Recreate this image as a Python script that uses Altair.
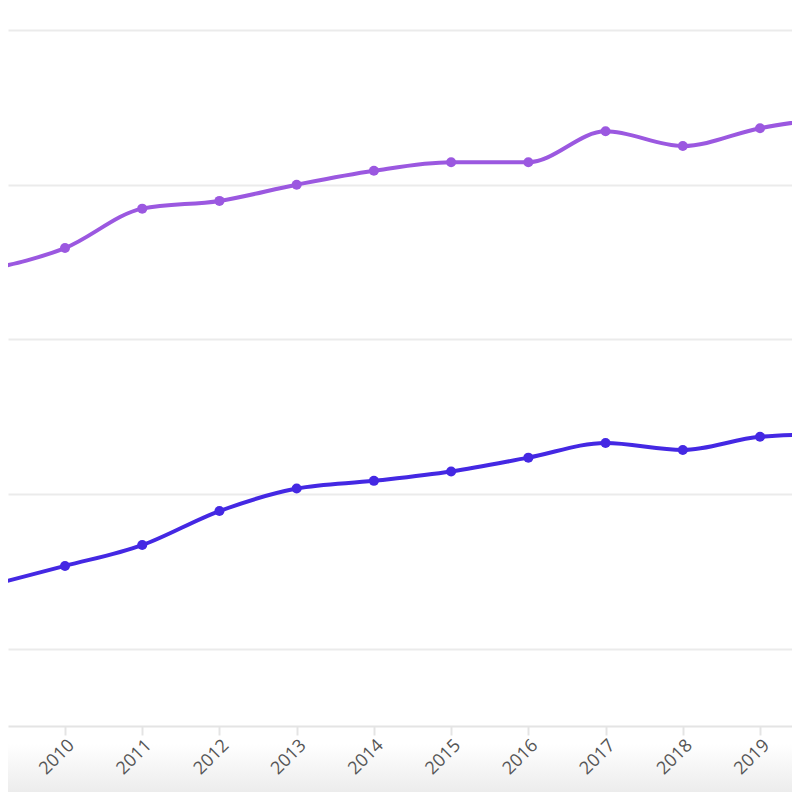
import altair as alt
import pandas as pd

years = [2009, 2010, 2011, 2012, 2013, 2014, 2015, 2016, 2017, 2018, 2019, 2020]
series_a = [69.0, 71.8, 76.9, 77.9, 80.0, 81.8, 82.9, 82.9, 86.9, 85.0, 87.3, 88.8]
series_b = [28.1, 30.7, 33.4, 37.8, 40.7, 41.7, 42.9, 44.7, 46.6, 45.7, 47.4, 47.8]
series_names = ["A", "B"]
series_colors = ["#9b58e0", "#4428e3"]
tick_years = [2010, 2011, 2012, 2013, 2014, 2015, 2016, 2017, 2018, 2019]
y_grid = [20, 40, 60, 80, 100]

rows = []
for name, vals in zip(series_names, [series_a, series_b]):
    for yr, v in zip(years, vals):
        rows.append({"year": yr, "value": v, "series": name})
df = pd.DataFrame(rows)

W = 784
H = 696

x_scale = alt.Scale(domain=[2009.262, 2019.414], nice=False, zero=False)
y_scale = alt.Scale(domain=[10, 100], nice=False, zero=False)
color_scale = alt.Scale(domain=series_names, range=series_colors)

x_enc = alt.X(
    "year:Q",
    scale=x_scale,
    axis=alt.Axis(
        values=tick_years,
        format="d",
        title=None,
        grid=False,
        labelAngle=-45,
        labelAlign="right",
        labelBaseline="top",
        labelPadding=1,
        labelFontSize=18,
        labelFont="Open Sans",
        labelColor="#555555",
        tickSize=9,
        tickColor="#e4e4e4",
        tickWidth=2,
        domainColor="#e4e4e4",
        domainWidth=2,
        zindex=1,
    ),
)
y_enc = alt.Y(
    "value:Q",
    scale=y_scale,
    axis=alt.Axis(
        values=y_grid,
        title=None,
        labels=False,
        ticks=False,
        domain=False,
        grid=True,
        gridColor="#ebebeb",
        gridWidth=2,
    ),
)

bg = alt.Chart(pd.DataFrame({"k": [0]})).mark_rect(
    fill=alt.LinearGradient(
        gradient="linear",
        stops=[alt.GradientStop(color="#ffffff", offset=0),
               alt.GradientStop(color="#ececec", offset=1)],
        x1=0, x2=0, y1=0, y2=1,
    ),
    clip=False,
).encode(
    x=alt.value(-8), x2=alt.value(W + 8), y=alt.value(H + 18), y2=alt.value(H + 66)
)

base = alt.Chart(df).encode(
    x=x_enc,
    y=y_enc,
    color=alt.Color("series:N", scale=color_scale, legend=None),
)
lines = base.mark_line(interpolate="monotone", strokeWidth=4, clip=True)
points = base.mark_point(filled=True, size=100, opacity=1, clip=True)

chart = alt.layer(bg, lines, points).properties(
    width=W,
    height=H,
    autosize="none",
    background="white",
    padding={"left": 0, "top": 22, "right": 0, "bottom": 66},
).configure_view(stroke=None, strokeWidth=0).configure_axisY(domain=False)

chart.save("out.html", embed_options={"renderer": "svg", "actions": False})
